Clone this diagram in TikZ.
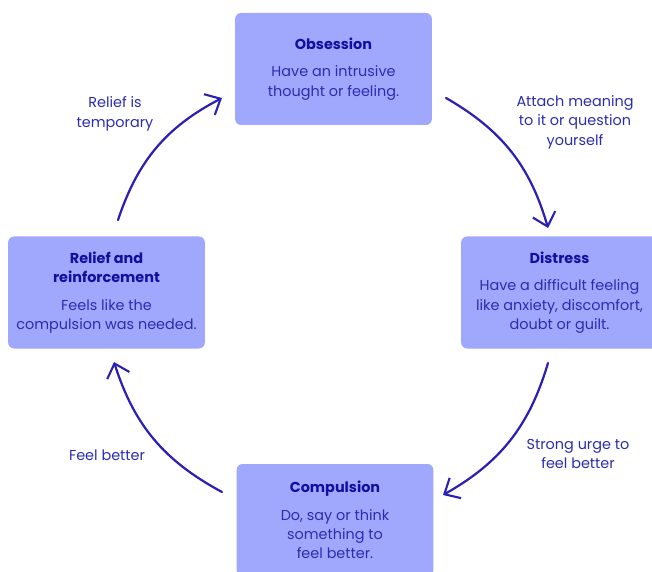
\documentclass[tikz,border=0pt]{standalone}
\usepackage{fontspec}
\setmainfont{Poppins}
\usetikzlibrary{arrows.meta}
\definecolor{boxfill}{HTML}{A0A8FE}
\definecolor{inktext}{HTML}{2A2DAE}
\definecolor{inktitle}{HTML}{1010A0}
\definecolor{inkarrow}{HTML}{2B1FB4}
\tikzset{
  cyclebox/.style={rounded corners=5pt, fill=boxfill, text=inktext, minimum width=5.9cm, minimum height=3.36cm, align=center, inner sep=0pt},
  cyclearrow/.style={-{Straight Barb[length=3.8mm, width=7mm, line width=1.8pt]}, line width=1.9pt, draw=inkarrow, line cap=round},
  steplabel/.style={text=inktext, align=center, inner sep=0pt}
}
\newcommand{\titleline}[1]{{\color{inktitle}\bfseries #1}}

\begin{document}
\begin{tikzpicture}[x=0.03cm, y=-0.03cm, every node/.style={font=\fontsize{12.3}{16.6}\selectfont}]
  \useasboundingbox (0,0) rectangle (652,572);
  \clip (0,0) rectangle (652,572);
  % the four stages
  \node[cyclebox] (obs) at (333.5,69) {\titleline{Obsession}\\[7pt]Have an intrusive\\thought or feeling.};
  \node[cyclebox] (dis) at (559.5,292.5) {\titleline{Distress}\\[7pt]Have a difficult feeling\\like anxiety, discomfort,\\doubt or guilt.};
  \node[cyclebox] (comp) at (335,520) {\titleline{Compulsion}\\[7pt]Do, say or think\\something to\\feel better.};
  \node[cyclebox] (rel) at (106.5,292.5) {\titleline{Relief and}\\\titleline{reinforcement}\\[7pt]Feels like the\\compulsion was needed.};
  % arrow ends
  \coordinate (a1) at (446,98);
  \coordinate (a2) at (548,228);
  \coordinate (b1) at (548,363);
  \coordinate (b2) at (443,495);
  \coordinate (c1) at (222,492);
  \coordinate (c2) at (114,362);
  \coordinate (d1) at (118,220);
  \coordinate (d2) at (222,98);
  \draw[cyclearrow] (a1) to[bend left=22] (a2);
  \draw[cyclearrow] (b1) to[bend left=22] (b2);
  \draw[cyclearrow] (c1) to[bend left=22] (c2);
  \draw[cyclearrow] (d1) to[bend left=22] (d2);
  % labels
  \node[steplabel] (lab1) at (575,122) {Attach meaning\\to it or question\\yourself};
  \node[steplabel] (lab2) at (578,454) {Strong urge to\\feel better};
  \node[steplabel] (lab3) at (107,455) {Feel better};
  \node[steplabel] (lab4) at (115,114) {Relief is\\temporary};
\end{tikzpicture}
\end{document}
